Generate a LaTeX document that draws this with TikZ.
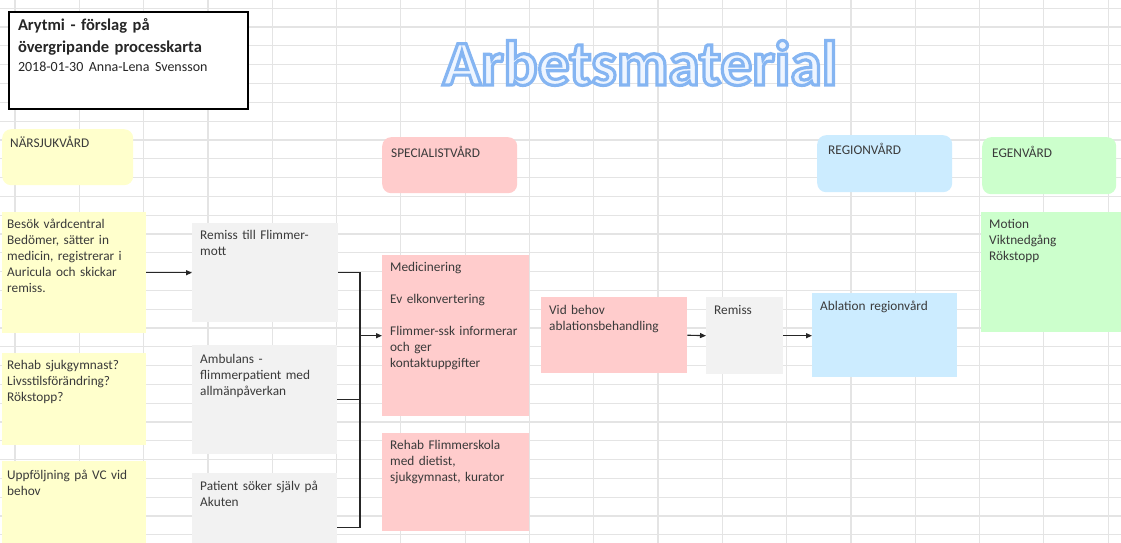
\documentclass[tikz,border=0pt]{standalone}
\usepackage{fontspec}
\setmainfont{Carlito}
\usetikzlibrary{arrows.meta,calc}
\definecolor{gridc}{HTML}{E4E4E4}
\definecolor{txt}{HTML}{3A3A3A}
\definecolor{ylw}{HTML}{FFFFCC}
\definecolor{gry}{HTML}{F2F2F2}
\definecolor{pnk}{HTML}{FFCCCC}
\definecolor{blu}{HTML}{CCECFF}
\definecolor{grn}{HTML}{CCFFCC}
\definecolor{wmfill}{HTML}{EEF5FF}
\definecolor{conn}{HTML}{262626}
\newcommand\outlinetext[1]{\special{pdf:literal direct 2 Tr 3.2 w 0.52 0.71 0.95 RG}#1\special{pdf:literal direct 0 Tr 1 w}}
\tikzset{
  gridline/.style={draw=gridc, line width=1.2pt},
  cell/.style={rectangle, anchor=north west, inner xsep=8pt, inner ysep=0pt,
    align=left, text=txt, font=\fontsize{13.3}{16}\selectfont},
  hdr/.style={cell, rounded corners=9pt},
  link/.style={draw=conn, line width=1.1pt},
  arr/.style={link, -{Triangle[length=6pt,width=5pt]}},
  wm/.style={anchor=base, font=\fontsize{63.5}{70}\selectfont\bfseries}
}
\begin{document}
\begin{tikzpicture}[x=1pt,y=-1pt]
\useasboundingbox (0,0) rectangle (1121,543);
\clip (0,0) rectangle (1121,543);
\fill[white] (0,0) rectangle (1121,543);
% spreadsheet grid
\foreach \k in {0,...,17} \draw[gridline] ({15+64.3*\k},0) -- ({15+64.3*\k},543);
\foreach \k in {0,...,28} \draw[gridline] (0,{8.3+18.8*\k}) -- (1121,{8.3+18.8*\k});

% title box
\node[cell, fill=white, draw=black, line width=2pt, inner xsep=9pt, text width=221pt,
  text height=19pt, text depth=78pt, text=black!85, font=\fontsize{16.5}{21}\selectfont\bfseries] (title) at (8,11)
  {Arytmi - förslag på\\övergripande processkarta\\[-1.8pt]{\mdseries\fontsize{14}{18}\selectfont 2018-01-30 Anna-Lena Svensson}};

% watermark
\node[wm, text=wmfill] (wm) at (640,85) {\outlinetext{Arbetsmaterial}};

% headers
\node[hdr, fill=ylw, text width=115pt, text height=18pt, text depth=38pt] (h1) at (2,129) {NÄRSJUKVÅRD};
\node[hdr, fill=pnk, inner xsep=9pt, text width=117pt, text height=20pt, text depth=36pt] (h2) at (382,137) {SPECIALISTVÅRD};
\node[hdr, fill=blu, inner xsep=11pt, text width=113pt, text height=19pt, text depth=38pt] (h3) at (817,135) {REGIONVÅRD};
\node[hdr, fill=grn, inner xsep=10pt, text width=114pt, text height=20pt, text depth=37pt] (h4) at (982,137) {EGENVÅRD};

% left column (yellow)
\node[cell, fill=ylw, inner xsep=5pt, text width=134pt, text height=16pt, text depth=105pt] (besok) at (2,212)
  {Besök vårdcentral\\Bedömer, sätter in\\medicin, registrerar i\\Auricula och skickar\\remiss.};
\node[cell, fill=ylw, inner xsep=5pt, text width=134pt, text height=16pt, text depth=76pt] (rehab) at (2,353)
  {Rehab sjukgymnast?\\Livsstilsförändring?\\Rökstopp?};
\node[cell, fill=ylw, inner xsep=5pt, text width=134pt, text height=18pt, text depth=90pt] (uppf) at (2,461)
  {Uppföljning på VC vid\\behov};

% grey column
\node[cell, fill=gry, text width=130pt, text height=16pt, text depth=83pt] (rem1) at (192,223)
  {Remiss till Flimmer-\\mott};
\node[cell, fill=gry, text width=129pt, text height=18pt, text depth=91pt] (amb) at (192,345)
  {Ambulans -\\flimmerpatient med\\allmänpåverkan};
\node[cell, fill=gry, text width=129pt, text height=17pt, text depth=91pt] (pat) at (192,473)
  {Patient söker själv på\\Akuten};

% specialist column
\node[cell, fill=pnk, text width=131pt, text height=16pt, text depth=145pt] (med) at (382,255)
  {Medicinering\\[16.5pt]Ev elkonvertering\\[16pt]Flimmer-ssk informerar\\och ger\\kontaktuppgifter};
\node[cell, fill=pnk, text width=131pt, text height=16pt, text depth=82pt] (flsk) at (382,433)
  {Rehab Flimmerskola\\med dietist,\\sjukgymnast, kurator};
\node[cell, fill=pnk, text width=130pt, text height=17pt, text depth=59pt] (vid) at (541,297)
  {Vid behov\\ablationsbehandling};
\node[cell, fill=gry, text width=61pt, text height=17pt, text depth=60pt] (rem2) at (706,297)
  {Remiss};
\node[cell, fill=blu, text width=129pt, text height=17pt, text depth=67pt] (abl) at (812,293)
  {Ablation regionvård};
\node[cell, fill=grn, text width=129pt, text height=16pt, text depth=104pt] (mot) at (981,212)
  {Motion\\Viktnedgång\\Rökstopp};

% connectors
\coordinate (bar) at (360,0);
\draw[arr] (besok.east) -- (rem1.west);
\draw[link] (rem1.east) -| (bar |- pat.east) -- (pat.east);
\draw[link] (amb.east) -- (bar |- amb.east);
\draw[arr] (bar |- med.west) -- (med.west);
\draw[arr] (vid.east) -- (rem2.west);
\draw[arr] (rem2.east) -- (abl.west |- rem2.east);
\end{tikzpicture}
\end{document}
